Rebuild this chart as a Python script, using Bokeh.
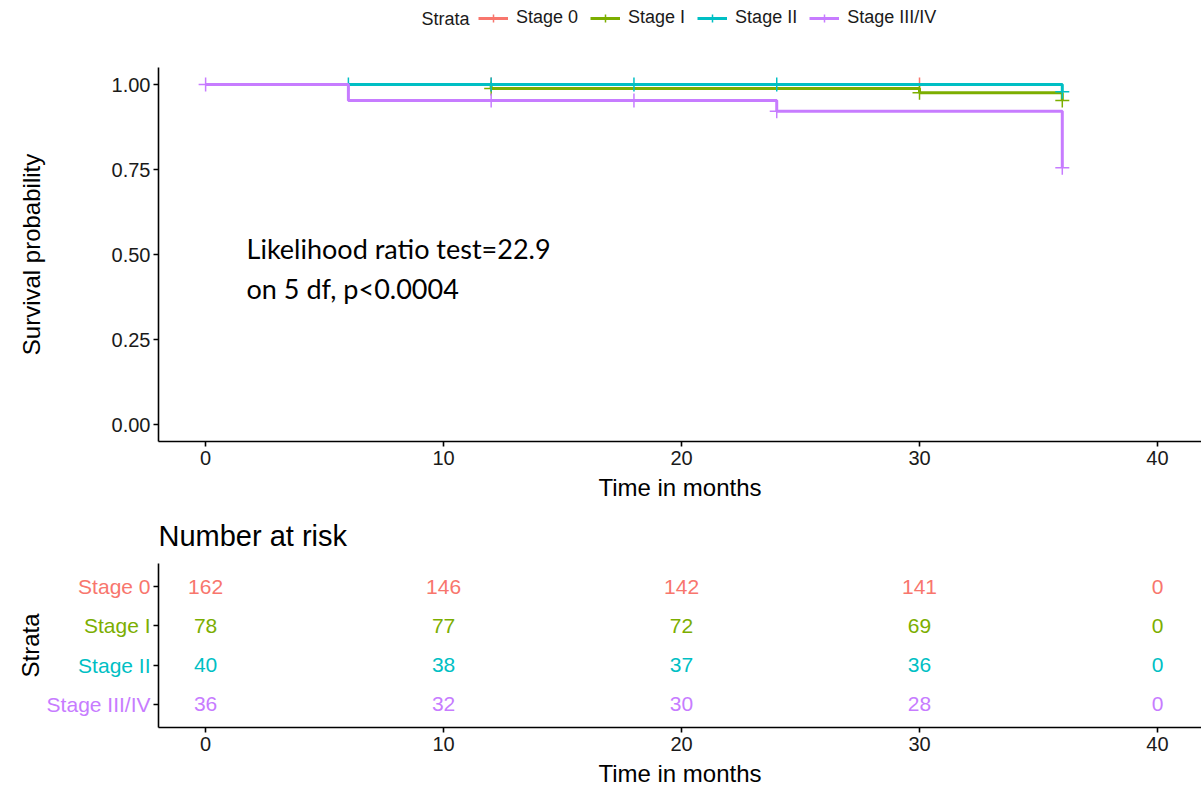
import numpy as np
from bokeh.plotting import figure
from bokeh.layouts import column
from bokeh.models import (Range1d, FixedTicker, NumeralTickFormatter,
                          Legend, LegendItem, Label, ColumnDataSource)
from bokeh.core.properties import value
from bokeh.embed import file_html
from bokeh.resources import INLINE

FONT = "Liberation Sans"

# strata and their colours
strata = ["Stage 0", "Stage I", "Stage II", "Stage III/IV"]
colors = ["#F8766D", "#7CAE00", "#00BFC4", "#C77CFF"]

# Kaplan-Meier step points (months, survival probability) and censoring times
stage0_time = [0, 36]
stage0_surv = [1.0, 1.0]
stage0_censor = [12, 30]

stage1_time = [0, 12, 30, 36]
stage1_surv = [1.0, 0.988, 0.976, 0.953]
stage1_censor = [12, 30, 36]

stage2_time = [0, 36]
stage2_surv = [1.0, 0.979]
stage2_censor = [6, 12, 18, 24, 36]

stage34_time = [0, 6, 24, 36]
stage34_surv = [1.0, 0.953, 0.921, 0.755]
stage34_censor = [0, 12, 18, 24, 36]

# number at risk table
risk_times = [0, 10, 20, 30, 40]
risk_stage0 = [162, 146, 142, 141, 0]
risk_stage1 = [78, 77, 72, 69, 0]
risk_stage2 = [40, 38, 37, 36, 0]
risk_stage34 = [36, 32, 30, 28, 0]

x_ticks = [0, 10, 20, 30, 40]
y_ticks = [0.0, 0.25, 0.50, 0.75, 1.0]

curves = [
    (stage0_time, stage0_surv, stage0_censor),
    (stage1_time, stage1_surv, stage1_censor),
    (stage2_time, stage2_surv, stage2_censor),
    (stage34_time, stage34_surv, stage34_censor),
]
risks = [risk_stage0, risk_stage1, risk_stage2, risk_stage34]

# ---- panel geometry (pixels) ----
W = 1201
TOP_H, TABLE_H = 510, 279
PLOT_LEFT = 158                      # x pixel of both y axes
KM_TOP, KM_BOTTOM = 67, 441          # plotting box of the survival panel
TB_TOP, TB_BOTTOM = 53, 217          # plotting box of the table (inside its own figure)

X_LO, X_HI = -1.98, 41.85            # visible time span right of the y axis
px_per_month = (W - PLOT_LEFT) / (X_HI - X_LO)
X_RANGE = (X_LO - PLOT_LEFT / px_per_month, X_HI)

Y_LO, Y_HI = -0.05, 1.05
px_per_unit = (KM_BOTTOM - KM_TOP) / (Y_HI - Y_LO)
KM_Y_RANGE = (Y_LO - (TOP_H - KM_BOTTOM) / px_per_unit, Y_HI + KM_TOP / px_per_unit)

R_LO, R_HI = 0.4, len(strata) + 0.6
px_per_row = (TB_BOTTOM - TB_TOP) / (R_HI - R_LO)
TB_Y_RANGE = (R_LO - (TABLE_H - TB_BOTTOM) / px_per_row, R_HI + TB_TOP / px_per_row)
row_pos = [len(strata) - i for i in range(len(strata))]   # Stage 0 on top


def style_axis(ax):
    ax.axis_line_color = "black"
    ax.axis_line_width = 1.6
    ax.major_tick_line_color = "black"
    ax.major_tick_line_width = 1.6
    ax.major_tick_out = 5
    ax.major_tick_in = 0
    ax.minor_tick_line_color = None
    ax.major_label_text_font = FONT
    ax.major_label_text_font_size = "20px"
    ax.major_label_text_color = "#1a1a1a"
    ax.axis_label_text_font = FONT
    ax.axis_label_text_font_size = "24px"
    ax.axis_label_text_font_style = "normal"
    ax.axis_label_text_color = "black"


# ---- survival curves ----
p = figure(width=W, height=TOP_H, x_range=Range1d(*X_RANGE), y_range=Range1d(*KM_Y_RANGE),
           output_backend="svg", toolbar_location=None, min_border=0)
p.outline_line_color = None
p.grid.visible = False

items = []
for name, (tt, s, cens), col in zip(strata, curves, colors):
    r_line = p.step(x=tt, y=s, mode="after", line_color=col, line_width=3)
    idx = np.searchsorted(tt, cens, side="right") - 1
    r_mark = p.scatter(x=cens, y=np.asarray(s)[idx], marker="cross", size=14,
                       line_color=col, line_width=1.5)
    items.append(LegendItem(label=name, renderers=[r_line, r_mark]))

legend = Legend(items=items, orientation="horizontal", location=(478, TOP_H - 28),
                glyph_width=30, glyph_height=20, label_standoff=8, spacing=12,
                padding=0, margin=0, border_line_color=None, background_fill_alpha=0,
                label_text_font=FONT, label_text_font_size="18px", label_text_color="#1a1a1a")
p.add_layout(legend)
p.add_layout(Label(x=421, y=TOP_H - 18, x_units="screen", y_units="screen", text="Strata",
                   text_font=FONT, text_font_size="18px", text_baseline="middle",
                   text_color="#1a1a1a"))

p.xaxis.ticker = FixedTicker(ticks=x_ticks)
p.xaxis.bounds = (X_LO, X_HI)
p.xaxis.fixed_location = Y_LO
p.yaxis.ticker = FixedTicker(ticks=y_ticks)
p.yaxis.bounds = (Y_LO, Y_HI)
p.yaxis.fixed_location = X_LO
p.yaxis.formatter = NumeralTickFormatter(format="0.00")
p.xaxis.axis_label = "Time in months"
p.yaxis.axis_label = "Survival probability"
style_axis(p.xaxis[0])
style_axis(p.yaxis[0])
p.xaxis.major_label_standoff = 4
p.xaxis.axis_label_standoff = 6
p.yaxis.major_label_standoff = 3
p.yaxis.axis_label_standoff = 64

p.add_layout(Label(x=1.72, y=0.518, text="Likelihood ratio test=22.9", text_font="Lato",
                   text_font_size="27px", text_baseline="middle", text_color="black"))
p.add_layout(Label(x=1.72, y=0.40, text="on 5 df, p<0.0004", text_font="Lato",
                   text_font_size="27px", text_baseline="middle", text_color="black"))

# ---- number at risk table ----
t = figure(width=W, height=TABLE_H, x_range=Range1d(*X_RANGE), y_range=Range1d(*TB_Y_RANGE),
           output_backend="svg", toolbar_location=None, min_border=0)
t.outline_line_color = None
t.grid.visible = False

xs, ys, txt, cols = [], [], [], []
for pos, col, counts in zip(row_pos, colors, risks):
    for tm, n in zip(risk_times, counts):
        xs.append(tm)
        ys.append(pos)
        txt.append(str(n))
        cols.append(col)
t.text(x="x", y="y", text="text", text_color="color",
       source=ColumnDataSource(dict(x=xs, y=ys, text=txt, color=cols)),
       text_font=value(FONT), text_font_size="21px", text_align="center", text_baseline="middle")

# coloured stratum names beside the y axis
t.text(x="x", y="y", text="text", text_color="color",
       source=ColumnDataSource(dict(x=[X_LO] * len(strata), y=row_pos, text=strata, color=colors)),
       x_offset=-8, text_font=value(FONT), text_font_size="21px",
       text_align="right", text_baseline="middle")

t.add_layout(Label(x=X_LO, y=R_HI + 28 / px_per_row, text="Number at risk",
                   text_font=FONT, text_font_size="29px", text_baseline="middle",
                   text_color="black"))

t.xaxis.ticker = FixedTicker(ticks=x_ticks)
t.xaxis.bounds = (X_LO, X_HI)
t.xaxis.fixed_location = R_LO
t.xaxis.axis_label = "Time in months"
t.yaxis.ticker = FixedTicker(ticks=row_pos)
t.yaxis.major_label_overrides = {pos: "" for pos in row_pos}
t.yaxis.bounds = (R_LO, R_HI)
t.yaxis.fixed_location = X_LO
t.yaxis.axis_label = "Strata"
style_axis(t.xaxis[0])
style_axis(t.yaxis[0])
t.xaxis.major_label_standoff = 4
t.xaxis.axis_label_standoff = 6
t.yaxis.major_label_standoff = 3
t.yaxis.axis_label_standoff = 110

layout = column(p, t, spacing=0)
open("out.html", "w").write(file_html(layout, INLINE))
